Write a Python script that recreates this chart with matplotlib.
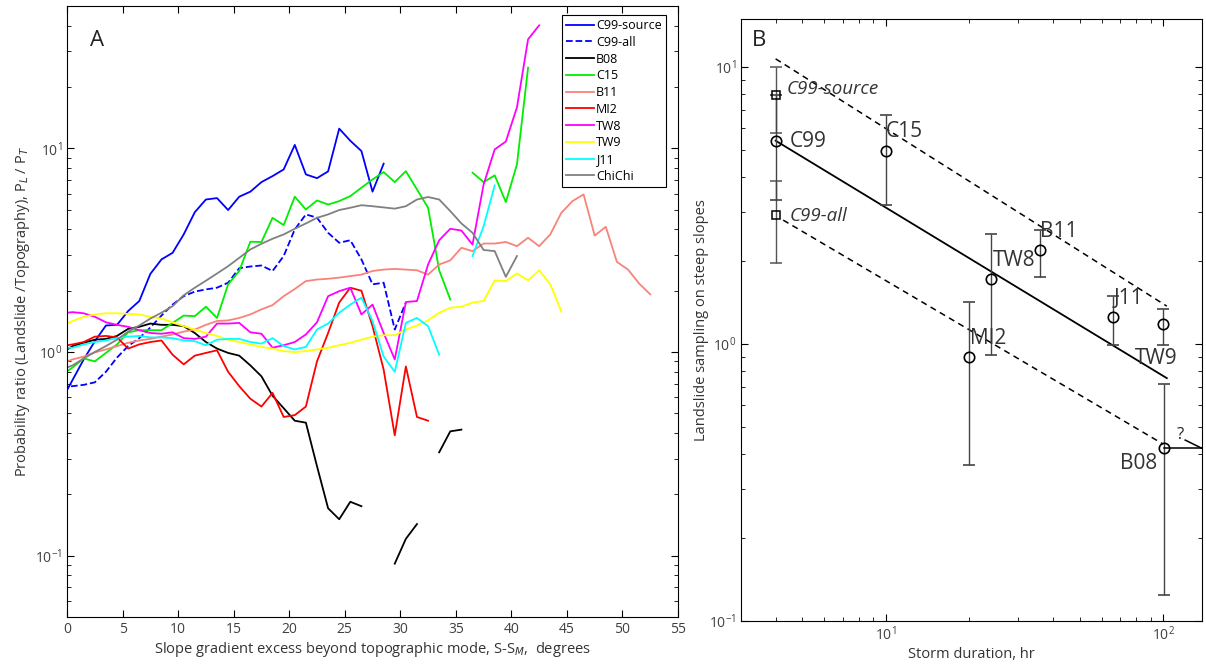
import numpy as np
import matplotlib
matplotlib.use("Agg")
import matplotlib.pyplot as plt

plt.rcParams['font.family'] = ['Open Sans', 'DejaVu Sans']
plt.rcParams['mathtext.fontset'] = 'custom'
plt.rcParams['mathtext.rm'] = 'Open Sans'

# ------------------------------------------------------------------
# Panel A: probability ratio vs slope excess (1-degree bins, centres at k+0.5)
slope = np.arange(-0.5, 53.0, 1.0)
nan = np.nan

c99_source = [0.58, 0.73, 0.92, 1.13, 1.35, 1.36, 1.59, 1.78, 2.42, 2.85, 3.07, 3.78, 4.86,
              5.61, 5.70, 4.98, 5.79, 6.13, 6.83, 7.31, 7.88, 10.4, 7.45, 7.14, 7.71, 12.5,
              10.9, 9.7, 6.13, 8.41]
c99_all = [0.67, 0.68, 0.69, 0.71, 0.80, 0.94, 1.07, 1.17, 1.32, 1.51, 1.71, 1.88, 1.98, 2.03,
           2.07, 2.19, 2.58, 2.63, 2.66, 2.50, 2.96, 4.0, 4.74, 4.57, 3.85, 3.44, 3.54, 2.85,
           2.15, 2.19, 1.29, 1.75]
b08 = [0.99, 1.07, 1.11, 1.15, 1.16, 1.20, 1.30, 1.33, 1.38, 1.36, 1.36, 1.34, 1.24, 1.12,
       1.04, 0.99, 0.96, 0.86, 0.76, 0.61, 0.53, 0.46, 0.45, 0.275, 0.171, 0.151, 0.184, 0.175,
       nan, nan, 0.0914, 0.121, 0.143, nan, 0.322, 0.408, 0.416]
c15 = [0.77, 0.84, 0.93, 0.90, 0.99, 1.09, 1.25, 1.28, 1.28, 1.28, 1.39, 1.51, 1.50, 1.67,
       1.47, 2.15, 2.50, 3.48, 3.47, 4.56, 4.2, 5.79, 5.01, 5.55, 5.3, 5.51, 5.83, 6.41, 7.04,
       7.65, 6.83, 7.73, 6.29, 5.11, 2.52, 1.81, nan, 7.6, 6.83, 7.37, 5.45, 8.34, 24.9]
b11 = [0.88, 0.92, 0.95, 0.996, 1.03, 1.07, 1.11, 1.14, 1.16, 1.19, 1.22, 1.26, 1.29, 1.36,
       1.42, 1.43, 1.47, 1.53, 1.62, 1.70, 1.88, 2.04, 2.23, 2.27, 2.29, 2.32, 2.36, 2.40, 2.50,
       2.54, 2.56, 2.54, 2.52, 2.40, 2.69, 2.82, 3.25, 3.13, 3.41, 3.41, 3.47, 3.31, 3.64, 3.31,
       3.78, 4.83, 5.51, 5.94, 3.73, 4.12, 2.77, 2.54, 2.17, 1.92]
mi2 = [1.07, 1.09, 1.12, 1.19, 1.20, 1.18, 1.04, 1.09, 1.12, 1.14, 0.97, 0.87, 0.96, 0.99,
       1.02, 0.80, 0.68, 0.59, 0.54, 0.63, 0.48, 0.49, 0.54, 0.90, 1.24, 1.75, 2.07, 2.0, 1.34,
       0.82, 0.39, 0.85, 0.48, 0.46]
tw8 = [1.55, 1.57, 1.55, 1.49, 1.40, 1.36, 1.33, 1.28, 1.24, 1.23, 1.25, 1.17, 1.16, 1.19,
       1.38, 1.38, 1.39, 1.25, 1.23, 1.05, 1.08, 1.12, 1.22, 1.40, 1.88, 1.99, 2.07, 1.53, 1.71,
       1.24, 0.92, 1.76, 1.78, 2.69, 3.54, 4.03, 3.95, 3.37, 6.65, 9.89, 10.8, 15.9, 34.3, 40.2]
tw9 = [1.34, 1.42, 1.49, 1.53, 1.55, 1.55, 1.54, 1.53, 1.49, 1.46, 1.40, 1.34, 1.29, 1.24,
       1.20, 1.15, 1.12, 1.09, 1.06, 1.04, 1.01, 1.00, 1.01, 1.03, 1.05, 1.08, 1.11, 1.15, 1.19,
       1.21, 1.21, 1.29, 1.35, 1.43, 1.56, 1.65, 1.67, 1.75, 1.78, 2.25, 2.23, 2.43, 2.25, 2.52,
       2.15, 1.58]
j11 = [1.05, 1.05, 1.09, 1.12, 1.14, 1.17, 1.19, 1.20, 1.18, 1.18, 1.17, 1.14, 1.13, 1.08,
       1.15, 1.16, 1.16, 1.12, 1.10, 1.17, 1.07, 1.03, 1.06, 1.29, 1.38, 1.56, 1.71, 1.85, 1.42,
       0.95, 0.80, 1.39, 1.47, 1.34, 0.97, nan, nan, 2.96, 4.15, 6.58]
chichi = [0.82, 0.86, 0.93, 1.0, 1.07, 1.15, 1.26, 1.35, 1.46, 1.56, 1.68, 1.90, 2.07, 2.24,
          2.43, 2.64, 2.90, 3.19, 3.40, 3.60, 3.78, 4.03, 4.28, 4.56, 4.74, 4.98, 5.11, 5.26,
          5.2, 5.13, 5.06, 5.2, 5.61, 5.77, 5.61, 4.92, 4.28, 3.85, 3.17, 3.13, 2.34, 2.96]

# ------------------------------------------------------------------
# Panel B: landslide sampling vs storm duration
sites = ['C99', 'C15', 'TW8', 'B11', 'MI2', 'J11', 'TW9', 'B08']
duration_hr = [4, 10, 24, 36, 20, 66, 100, 101]
sampling = [5.42, 4.97, 1.71, 2.18, 0.90, 1.25, 1.18, 0.42]
sampling_lo = [3.31, 3.18, 0.91, 1.75, 0.366, 0.99, 0.99, 0.124]
sampling_hi = [7.9, 6.72, 2.50, 2.58, 1.42, 1.49, 1.34, 0.72]

c99_extra = ['C99-source', 'C99-all']
c99_extra_val = [7.9, 2.93]
c99_extra_lo = [5.8, 1.96]
c99_extra_hi = [10.0, 3.87]

fit_x, fit_y = [4, 103], [5.42, 0.753]
upper_x, upper_y = [4, 103], [10.7, 1.37]
lower_x, lower_y = [4.26, 100], [2.80, 0.435]

# ------------------------------------------------------------------
fig = plt.figure(figsize=(12.06, 6.69), dpi=100)
axA = fig.add_axes([0.0556, 0.0777, 0.5066, 0.9133])
axB = fig.add_axes([0.6144, 0.0717, 0.3823, 0.8999])

grey_txt = '#404040'


def pad(vals):
    out = np.full(len(slope), np.nan)
    out[:len(vals)] = vals
    return out


series = [(c99_source, 'C99-source', '#0000ff', '-'),
          (c99_all, 'C99-all', '#0000ff', '--'),
          (b08, 'B08', 'black', '-'),
          (c15, 'C15', '#00ee00', '-'),
          (b11, 'B11', '#f8837a', '-'),
          (mi2, 'MI2', '#ff0000', '-'),
          (tw8, 'TW8', '#ff00ff', '-'),
          (tw9, 'TW9', '#ffff00', '-'),
          (j11, 'J11', '#00ffff', '-'),
          (chichi, 'ChiChi', '#808080', '-')]
for vals, lab, col, ls in series:
    axA.plot(slope, pad(vals), ls, color=col, lw=1.3, label=lab)

axA.set_yscale('log')
axA.set_xlim(0, 55)
axA.set_ylim(0.05, 50)
axA.set_xticks(np.arange(0, 56, 5))
axA.tick_params(which='both', direction='in', top=True, right=True, labelcolor=grey_txt,
                labelsize=10)
axA.tick_params(which='major', length=5)
axA.tick_params(which='minor', length=3)
axA.set_xlabel('Slope gradient excess beyond topographic mode, S-S$_M$,  degrees',
               fontsize=10.5, color='#333333', labelpad=2)
axA.set_ylabel('Probability ratio (Landslide /Topography), P$_L$ / P$_T$',
               fontsize=10.5, color='#333333', labelpad=2)
axA.text(0.038, 0.944, 'A', transform=axA.transAxes, fontsize=16, va='center', color='#222222')
leg = axA.legend(loc='upper right', fontsize=9, frameon=True, fancybox=False, framealpha=1,
                 edgecolor='black', handlelength=2.2, handletextpad=0.2, labelspacing=0.3,
                 borderpad=0.3, bbox_to_anchor=(0.99, 0.995))
leg.get_frame().set_linewidth(0.8)

# Panel B
axB.plot(fit_x, fit_y, '-', color='black', lw=1.3)
axB.plot(upper_x, upper_y, '--', color='black', lw=1.1, dashes=(4, 3))
axB.plot(lower_x, lower_y, '--', color='black', lw=1.1, dashes=(4, 3))

x_c99 = duration_hr[0]
for v, lo, hi in zip(c99_extra_val, c99_extra_lo, c99_extra_hi):
    axB.errorbar([x_c99], [v], yerr=[[v - lo], [hi - v]], fmt='s', ms=6, mfc='none',
                 mec='black', mew=1.1, ecolor='#555555', elinewidth=1.0, capsize=4)
for d, v, lo, hi in zip(duration_hr, sampling, sampling_lo, sampling_hi):
    axB.errorbar([d], [v], yerr=[[v - lo], [hi - v]], fmt='o', ms=7.5, mfc='none',
                 mec='black', mew=1.2, ecolor='#444444', elinewidth=1.0, capsize=4)

# question-marked arrow beyond B08
b08_x, b08_y = duration_hr[-1], sampling[-1]
axB.plot([b08_x, 138], [b08_y, b08_y], color='black', lw=1.1)
axB.plot([120, 138], [0.45, b08_y], color='black', lw=1.1)
axB.text(115, 0.47, '?', fontsize=12, ha='center', va='center', color='#222222')

lab_fs = 15
axB.text(4.5, 5.4, 'C99', fontsize=lab_fs, ha='left', va='center', color='#333333')
axB.text(10, 5.85, 'C15', fontsize=lab_fs, ha='left', va='center', color='#333333')
axB.text(24.4, 2.0, 'TW8', fontsize=lab_fs, ha='left', va='center', color='#333333')
axB.text(35.9, 2.54, 'B11', fontsize=lab_fs, ha='left', va='center', color='#333333')
axB.text(66, 1.46, 'J11', fontsize=lab_fs, ha='left', va='center', color='#333333')
axB.text(20.1, 1.05, 'MI2', fontsize=lab_fs, ha='left', va='center', color='#333333')
axB.text(113, 0.885, 'TW9', fontsize=lab_fs, ha='right', va='center', color='#333333')
axB.text(95, 0.369, 'B08', fontsize=lab_fs, ha='right', va='center', color='#333333')
axB.text(4.4, 8.3, 'C99-source', fontsize=13.5, style='italic', ha='left', va='center',
         color='#333333')
axB.text(4.5, 2.9, 'C99-all', fontsize=13.5, style='italic', ha='left', va='center',
         color='#333333')
axB.text(0.024, 0.965, 'B', transform=axB.transAxes, fontsize=16, va='center', color='#222222')

axB.set_xscale('log')
axB.set_yscale('log')
axB.set_xlim(3, 138)
axB.set_ylim(0.1, 14.9)
axB.tick_params(which='both', direction='in', top=True, right=True, labelcolor=grey_txt,
                labelsize=10)
axB.tick_params(which='major', length=5)
axB.tick_params(which='minor', length=3)
axB.set_xlabel('Storm duration, hr', fontsize=10.5, color='#333333', labelpad=2)
axB.set_ylabel('Landslide sampling on steep slopes', fontsize=10.5, color='#333333',
               labelpad=0)

fig.savefig('out.png', dpi=100)
